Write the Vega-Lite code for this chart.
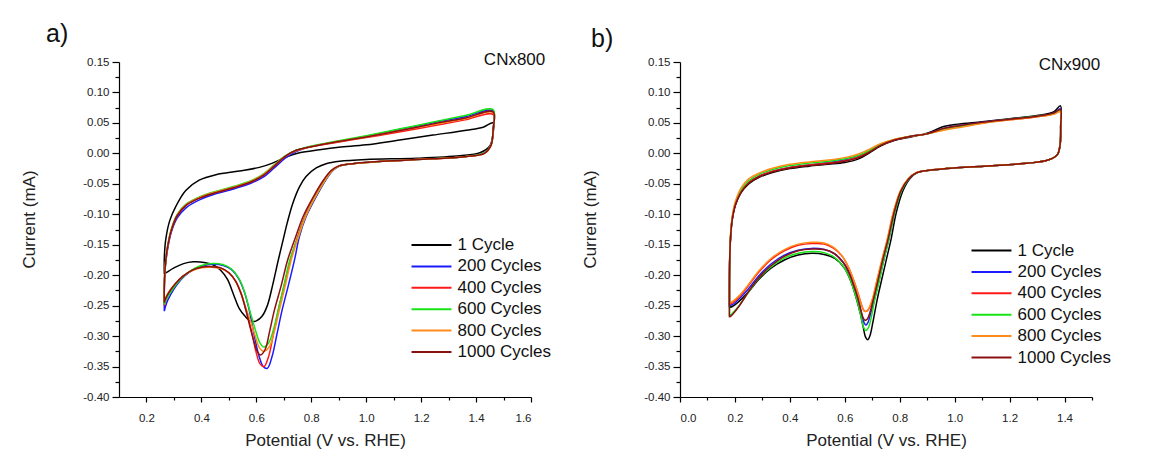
{
"$schema": "https://vega.github.io/schema/vega-lite/v6.json",
"background": "#ffffff",
"padding": {"left": 20, "top": 22, "right": 0, "bottom": 0},
"bounds": "flush",
"spacing": 149,
"config": {
  "view": {"stroke": null},
  "font": "Liberation Sans",
  "axis": {"grid": false, "domainColor": "#000000", "domainWidth": 1.2, "tickColor": "#000000", "tickWidth": 1.2, "labelColor": "#222222", "titleColor": "#222222", "labelFontSize": 11.5, "titleFontSize": 17, "titleFontWeight": "normal", "labelFont": "Liberation Sans", "titleFont": "Liberation Sans"},
  "title": {"fontSize": 25, "fontWeight": "normal", "color": "#111111", "font": "Liberation Sans", "anchor": "start", "frame": "group", "offset": 4},
  "legend": {"orient": "none", "title": null, "symbolType": "M-2.35,0H2.35", "symbolSize": 289, "symbolStrokeWidth": 2, "symbolFillColor": "transparent", "labelFontSize": 17, "labelFont": "Liberation Sans", "labelColor": "#111111", "rowPadding": 3.4, "labelOffset": 16.5, "padding": 0}
},
"resolve": {"scale": {"color": "independent", "x": "independent", "y": "independent"}, "legend": {"color": "independent"}},
"datasets": {
"a": [
{"s":"1 Cycle","o":1,"x":0.265,"y":-0.198},{"s":"1 Cycle","o":2,"x":0.265,"y":-0.172},{"s":"1 Cycle","o":3,"x":0.270,"y":-0.142},{"s":"1 Cycle","o":4,"x":0.285,"y":-0.110},{"s":"1 Cycle","o":5,"x":0.307,"y":-0.087},{"s":"1 Cycle","o":6,"x":0.343,"y":-0.061},{"s":"1 Cycle","o":7,"x":0.392,"y":-0.044},{"s":"1 Cycle","o":8,"x":0.453,"y":-0.035},{"s":"1 Cycle","o":9,"x":0.538,"y":-0.029},{"s":"1 Cycle","o":10,"x":0.611,"y":-0.023},{"s":"1 Cycle","o":11,"x":0.659,"y":-0.016},{"s":"1 Cycle","o":12,"x":0.708,"y":-0.006},{"s":"1 Cycle","o":13,"x":0.757,"y":0.001},{"s":"1 Cycle","o":14,"x":0.830,"y":0.006},{"s":"1 Cycle","o":15,"x":0.900,"y":0.010},{"s":"1 Cycle","o":16,"x":1.000,"y":0.014},{"s":"1 Cycle","o":17,"x":1.122,"y":0.022},{"s":"1 Cycle","o":18,"x":1.243,"y":0.030},{"s":"1 Cycle","o":19,"x":1.365,"y":0.038},{"s":"1 Cycle","o":20,"x":1.426,"y":0.043},{"s":"1 Cycle","o":21,"x":1.462,"y":0.050},{"s":"1 Cycle","o":22,"x":1.461,"y":0.030},{"s":"1 Cycle","o":23,"x":1.450,"y":0.012},{"s":"1 Cycle","o":24,"x":1.414,"y":0.001},{"s":"1 Cycle","o":25,"x":1.341,"y":-0.004},{"s":"1 Cycle","o":26,"x":1.183,"y":-0.008},{"s":"1 Cycle","o":27,"x":1.000,"y":-0.010},{"s":"1 Cycle","o":28,"x":0.903,"y":-0.013},{"s":"1 Cycle","o":29,"x":0.854,"y":-0.017},{"s":"1 Cycle","o":30,"x":0.818,"y":-0.024},{"s":"1 Cycle","o":31,"x":0.781,"y":-0.038},{"s":"1 Cycle","o":32,"x":0.757,"y":-0.055},{"s":"1 Cycle","o":33,"x":0.732,"y":-0.083},{"s":"1 Cycle","o":34,"x":0.712,"y":-0.115},{"s":"1 Cycle","o":35,"x":0.696,"y":-0.145},{"s":"1 Cycle","o":36,"x":0.680,"y":-0.175},{"s":"1 Cycle","o":37,"x":0.660,"y":-0.215},{"s":"1 Cycle","o":38,"x":0.640,"y":-0.250},{"s":"1 Cycle","o":39,"x":0.620,"y":-0.268},{"s":"1 Cycle","o":40,"x":0.600,"y":-0.275},{"s":"1 Cycle","o":41,"x":0.580,"y":-0.276},{"s":"1 Cycle","o":42,"x":0.560,"y":-0.268},{"s":"1 Cycle","o":43,"x":0.538,"y":-0.255},{"s":"1 Cycle","o":44,"x":0.518,"y":-0.233},{"s":"1 Cycle","o":45,"x":0.495,"y":-0.207},{"s":"1 Cycle","o":46,"x":0.470,"y":-0.192},{"s":"1 Cycle","o":47,"x":0.447,"y":-0.184},{"s":"1 Cycle","o":48,"x":0.410,"y":-0.179},{"s":"1 Cycle","o":49,"x":0.370,"y":-0.178},{"s":"1 Cycle","o":50,"x":0.335,"y":-0.181},{"s":"1 Cycle","o":51,"x":0.300,"y":-0.188},{"s":"1 Cycle","o":52,"x":0.275,"y":-0.195},{"s":"1 Cycle","o":53,"x":0.265,"y":-0.198},
{"s":"200 Cycles","o":1,"x":0.265,"y":-0.259},{"s":"200 Cycles","o":2,"x":0.265,"y":-0.225},{"s":"200 Cycles","o":3,"x":0.268,"y":-0.190},{"s":"200 Cycles","o":4,"x":0.276,"y":-0.160},{"s":"200 Cycles","o":5,"x":0.290,"y":-0.130},{"s":"200 Cycles","o":6,"x":0.312,"y":-0.106},{"s":"200 Cycles","o":7,"x":0.345,"y":-0.089},{"s":"200 Cycles","o":8,"x":0.395,"y":-0.076},{"s":"200 Cycles","o":9,"x":0.455,"y":-0.066},{"s":"200 Cycles","o":10,"x":0.520,"y":-0.058},{"s":"200 Cycles","o":11,"x":0.580,"y":-0.049},{"s":"200 Cycles","o":12,"x":0.625,"y":-0.039},{"s":"200 Cycles","o":13,"x":0.665,"y":-0.024},{"s":"200 Cycles","o":14,"x":0.705,"y":-0.008},{"s":"200 Cycles","o":15,"x":0.745,"y":0.003},{"s":"200 Cycles","o":16,"x":0.790,"y":0.010},{"s":"200 Cycles","o":17,"x":0.880,"y":0.018},{"s":"200 Cycles","o":18,"x":1.000,"y":0.028},{"s":"200 Cycles","o":19,"x":1.120,"y":0.039},{"s":"200 Cycles","o":20,"x":1.240,"y":0.050},{"s":"200 Cycles","o":21,"x":1.360,"y":0.060},{"s":"200 Cycles","o":22,"x":1.462,"y":0.070},{"s":"200 Cycles","o":23,"x":1.462,"y":0.040},{"s":"200 Cycles","o":24,"x":1.455,"y":0.015},{"s":"200 Cycles","o":25,"x":1.430,"y":0.001},{"s":"200 Cycles","o":26,"x":1.365,"y":-0.005},{"s":"200 Cycles","o":27,"x":1.240,"y":-0.009},{"s":"200 Cycles","o":28,"x":1.060,"y":-0.013},{"s":"200 Cycles","o":29,"x":0.950,"y":-0.017},{"s":"200 Cycles","o":30,"x":0.903,"y":-0.021},{"s":"200 Cycles","o":31,"x":0.879,"y":-0.028},{"s":"200 Cycles","o":32,"x":0.854,"y":-0.043},{"s":"200 Cycles","o":33,"x":0.818,"y":-0.071},{"s":"200 Cycles","o":34,"x":0.781,"y":-0.104},{"s":"200 Cycles","o":35,"x":0.757,"y":-0.136},{"s":"200 Cycles","o":36,"x":0.739,"y":-0.175},{"s":"200 Cycles","o":37,"x":0.716,"y":-0.218},{"s":"200 Cycles","o":38,"x":0.694,"y":-0.257},{"s":"200 Cycles","o":39,"x":0.675,"y":-0.297},{"s":"200 Cycles","o":40,"x":0.657,"y":-0.334},{"s":"200 Cycles","o":41,"x":0.640,"y":-0.353},{"s":"200 Cycles","o":42,"x":0.625,"y":-0.350},{"s":"200 Cycles","o":43,"x":0.610,"y":-0.333},{"s":"200 Cycles","o":44,"x":0.592,"y":-0.298},{"s":"200 Cycles","o":45,"x":0.574,"y":-0.257},{"s":"200 Cycles","o":46,"x":0.556,"y":-0.227},{"s":"200 Cycles","o":47,"x":0.536,"y":-0.206},{"s":"200 Cycles","o":48,"x":0.510,"y":-0.191},{"s":"200 Cycles","o":49,"x":0.480,"y":-0.184},{"s":"200 Cycles","o":50,"x":0.445,"y":-0.182},{"s":"200 Cycles","o":51,"x":0.410,"y":-0.184},{"s":"200 Cycles","o":52,"x":0.375,"y":-0.190},{"s":"200 Cycles","o":53,"x":0.340,"y":-0.201},{"s":"200 Cycles","o":54,"x":0.310,"y":-0.216},{"s":"200 Cycles","o":55,"x":0.288,"y":-0.232},{"s":"200 Cycles","o":56,"x":0.273,"y":-0.246},{"s":"200 Cycles","o":57,"x":0.265,"y":-0.259},
{"s":"400 Cycles","o":1,"x":0.265,"y":-0.250},{"s":"400 Cycles","o":2,"x":0.265,"y":-0.220},{"s":"400 Cycles","o":3,"x":0.268,"y":-0.188},{"s":"400 Cycles","o":4,"x":0.276,"y":-0.157},{"s":"400 Cycles","o":5,"x":0.290,"y":-0.127},{"s":"400 Cycles","o":6,"x":0.312,"y":-0.102},{"s":"400 Cycles","o":7,"x":0.345,"y":-0.085},{"s":"400 Cycles","o":8,"x":0.395,"y":-0.073},{"s":"400 Cycles","o":9,"x":0.455,"y":-0.064},{"s":"400 Cycles","o":10,"x":0.520,"y":-0.056},{"s":"400 Cycles","o":11,"x":0.580,"y":-0.047},{"s":"400 Cycles","o":12,"x":0.625,"y":-0.036},{"s":"400 Cycles","o":13,"x":0.665,"y":-0.021},{"s":"400 Cycles","o":14,"x":0.705,"y":-0.005},{"s":"400 Cycles","o":15,"x":0.745,"y":0.005},{"s":"400 Cycles","o":16,"x":0.790,"y":0.010},{"s":"400 Cycles","o":17,"x":0.880,"y":0.017},{"s":"400 Cycles","o":18,"x":1.000,"y":0.026},{"s":"400 Cycles","o":19,"x":1.120,"y":0.035},{"s":"400 Cycles","o":20,"x":1.240,"y":0.045},{"s":"400 Cycles","o":21,"x":1.360,"y":0.055},{"s":"400 Cycles","o":22,"x":1.462,"y":0.064},{"s":"400 Cycles","o":23,"x":1.462,"y":0.038},{"s":"400 Cycles","o":24,"x":1.455,"y":0.014},{"s":"400 Cycles","o":25,"x":1.430,"y":0.000},{"s":"400 Cycles","o":26,"x":1.365,"y":-0.005},{"s":"400 Cycles","o":27,"x":1.240,"y":-0.009},{"s":"400 Cycles","o":28,"x":1.060,"y":-0.013},{"s":"400 Cycles","o":29,"x":0.950,"y":-0.017},{"s":"400 Cycles","o":30,"x":0.900,"y":-0.021},{"s":"400 Cycles","o":31,"x":0.876,"y":-0.028},{"s":"400 Cycles","o":32,"x":0.850,"y":-0.043},{"s":"400 Cycles","o":33,"x":0.813,"y":-0.071},{"s":"400 Cycles","o":34,"x":0.776,"y":-0.104},{"s":"400 Cycles","o":35,"x":0.751,"y":-0.136},{"s":"400 Cycles","o":36,"x":0.724,"y":-0.175},{"s":"400 Cycles","o":37,"x":0.701,"y":-0.218},{"s":"400 Cycles","o":38,"x":0.680,"y":-0.257},{"s":"400 Cycles","o":39,"x":0.662,"y":-0.297},{"s":"400 Cycles","o":40,"x":0.645,"y":-0.333},{"s":"400 Cycles","o":41,"x":0.628,"y":-0.350},{"s":"400 Cycles","o":42,"x":0.614,"y":-0.346},{"s":"400 Cycles","o":43,"x":0.600,"y":-0.328},{"s":"400 Cycles","o":44,"x":0.583,"y":-0.293},{"s":"400 Cycles","o":45,"x":0.562,"y":-0.257},{"s":"400 Cycles","o":46,"x":0.545,"y":-0.231},{"s":"400 Cycles","o":47,"x":0.525,"y":-0.210},{"s":"400 Cycles","o":48,"x":0.500,"y":-0.196},{"s":"400 Cycles","o":49,"x":0.470,"y":-0.188},{"s":"400 Cycles","o":50,"x":0.435,"y":-0.186},{"s":"400 Cycles","o":51,"x":0.400,"y":-0.187},{"s":"400 Cycles","o":52,"x":0.365,"y":-0.192},{"s":"400 Cycles","o":53,"x":0.332,"y":-0.202},{"s":"400 Cycles","o":54,"x":0.305,"y":-0.215},{"s":"400 Cycles","o":55,"x":0.285,"y":-0.228},{"s":"400 Cycles","o":56,"x":0.272,"y":-0.240},{"s":"400 Cycles","o":57,"x":0.265,"y":-0.250},
{"s":"600 Cycles","o":1,"x":0.265,"y":-0.248},{"s":"600 Cycles","o":2,"x":0.265,"y":-0.218},{"s":"600 Cycles","o":3,"x":0.268,"y":-0.186},{"s":"600 Cycles","o":4,"x":0.276,"y":-0.155},{"s":"600 Cycles","o":5,"x":0.290,"y":-0.125},{"s":"600 Cycles","o":6,"x":0.312,"y":-0.100},{"s":"600 Cycles","o":7,"x":0.345,"y":-0.083},{"s":"600 Cycles","o":8,"x":0.395,"y":-0.071},{"s":"600 Cycles","o":9,"x":0.455,"y":-0.062},{"s":"600 Cycles","o":10,"x":0.520,"y":-0.054},{"s":"600 Cycles","o":11,"x":0.580,"y":-0.045},{"s":"600 Cycles","o":12,"x":0.625,"y":-0.034},{"s":"600 Cycles","o":13,"x":0.665,"y":-0.019},{"s":"600 Cycles","o":14,"x":0.705,"y":-0.004},{"s":"600 Cycles","o":15,"x":0.745,"y":0.005},{"s":"600 Cycles","o":16,"x":0.790,"y":0.011},{"s":"600 Cycles","o":17,"x":0.880,"y":0.019},{"s":"600 Cycles","o":18,"x":1.000,"y":0.029},{"s":"600 Cycles","o":19,"x":1.120,"y":0.040},{"s":"600 Cycles","o":20,"x":1.240,"y":0.051},{"s":"600 Cycles","o":21,"x":1.360,"y":0.062},{"s":"600 Cycles","o":22,"x":1.462,"y":0.072},{"s":"600 Cycles","o":23,"x":1.462,"y":0.040},{"s":"600 Cycles","o":24,"x":1.455,"y":0.015},{"s":"600 Cycles","o":25,"x":1.430,"y":0.001},{"s":"600 Cycles","o":26,"x":1.365,"y":-0.005},{"s":"600 Cycles","o":27,"x":1.240,"y":-0.009},{"s":"600 Cycles","o":28,"x":1.060,"y":-0.013},{"s":"600 Cycles","o":29,"x":0.950,"y":-0.017},{"s":"600 Cycles","o":30,"x":0.901,"y":-0.021},{"s":"600 Cycles","o":31,"x":0.877,"y":-0.028},{"s":"600 Cycles","o":32,"x":0.852,"y":-0.043},{"s":"600 Cycles","o":33,"x":0.815,"y":-0.071},{"s":"600 Cycles","o":34,"x":0.778,"y":-0.104},{"s":"600 Cycles","o":35,"x":0.753,"y":-0.136},{"s":"600 Cycles","o":36,"x":0.722,"y":-0.175},{"s":"600 Cycles","o":37,"x":0.700,"y":-0.218},{"s":"600 Cycles","o":38,"x":0.680,"y":-0.257},{"s":"600 Cycles","o":39,"x":0.662,"y":-0.290},{"s":"600 Cycles","o":40,"x":0.645,"y":-0.311},{"s":"600 Cycles","o":41,"x":0.628,"y":-0.318},{"s":"600 Cycles","o":42,"x":0.613,"y":-0.311},{"s":"600 Cycles","o":43,"x":0.598,"y":-0.292},{"s":"600 Cycles","o":44,"x":0.585,"y":-0.272},{"s":"600 Cycles","o":45,"x":0.574,"y":-0.255},{"s":"600 Cycles","o":46,"x":0.556,"y":-0.226},{"s":"600 Cycles","o":47,"x":0.536,"y":-0.205},{"s":"600 Cycles","o":48,"x":0.510,"y":-0.190},{"s":"600 Cycles","o":49,"x":0.480,"y":-0.183},{"s":"600 Cycles","o":50,"x":0.445,"y":-0.181},{"s":"600 Cycles","o":51,"x":0.410,"y":-0.183},{"s":"600 Cycles","o":52,"x":0.375,"y":-0.189},{"s":"600 Cycles","o":53,"x":0.340,"y":-0.200},{"s":"600 Cycles","o":54,"x":0.310,"y":-0.214},{"s":"600 Cycles","o":55,"x":0.288,"y":-0.228},{"s":"600 Cycles","o":56,"x":0.273,"y":-0.239},{"s":"600 Cycles","o":57,"x":0.265,"y":-0.248},
{"s":"800 Cycles","o":1,"x":0.265,"y":-0.243},{"s":"800 Cycles","o":2,"x":0.265,"y":-0.215},{"s":"800 Cycles","o":3,"x":0.268,"y":-0.186},{"s":"800 Cycles","o":4,"x":0.276,"y":-0.155},{"s":"800 Cycles","o":5,"x":0.290,"y":-0.126},{"s":"800 Cycles","o":6,"x":0.312,"y":-0.101},{"s":"800 Cycles","o":7,"x":0.345,"y":-0.084},{"s":"800 Cycles","o":8,"x":0.395,"y":-0.072},{"s":"800 Cycles","o":9,"x":0.455,"y":-0.063},{"s":"800 Cycles","o":10,"x":0.520,"y":-0.055},{"s":"800 Cycles","o":11,"x":0.580,"y":-0.046},{"s":"800 Cycles","o":12,"x":0.625,"y":-0.035},{"s":"800 Cycles","o":13,"x":0.665,"y":-0.020},{"s":"800 Cycles","o":14,"x":0.705,"y":-0.005},{"s":"800 Cycles","o":15,"x":0.745,"y":0.004},{"s":"800 Cycles","o":16,"x":0.790,"y":0.010},{"s":"800 Cycles","o":17,"x":0.880,"y":0.018},{"s":"800 Cycles","o":18,"x":1.000,"y":0.027},{"s":"800 Cycles","o":19,"x":1.120,"y":0.037},{"s":"800 Cycles","o":20,"x":1.240,"y":0.047},{"s":"800 Cycles","o":21,"x":1.360,"y":0.057},{"s":"800 Cycles","o":22,"x":1.462,"y":0.067},{"s":"800 Cycles","o":23,"x":1.462,"y":0.039},{"s":"800 Cycles","o":24,"x":1.455,"y":0.014},{"s":"800 Cycles","o":25,"x":1.430,"y":0.000},{"s":"800 Cycles","o":26,"x":1.365,"y":-0.005},{"s":"800 Cycles","o":27,"x":1.240,"y":-0.009},{"s":"800 Cycles","o":28,"x":1.060,"y":-0.013},{"s":"800 Cycles","o":29,"x":0.950,"y":-0.017},{"s":"800 Cycles","o":30,"x":0.901,"y":-0.021},{"s":"800 Cycles","o":31,"x":0.877,"y":-0.028},{"s":"800 Cycles","o":32,"x":0.852,"y":-0.043},{"s":"800 Cycles","o":33,"x":0.815,"y":-0.071},{"s":"800 Cycles","o":34,"x":0.779,"y":-0.104},{"s":"800 Cycles","o":35,"x":0.754,"y":-0.136},{"s":"800 Cycles","o":36,"x":0.727,"y":-0.175},{"s":"800 Cycles","o":37,"x":0.705,"y":-0.218},{"s":"800 Cycles","o":38,"x":0.684,"y":-0.257},{"s":"800 Cycles","o":39,"x":0.665,"y":-0.293},{"s":"800 Cycles","o":40,"x":0.648,"y":-0.317},{"s":"800 Cycles","o":41,"x":0.625,"y":-0.325},{"s":"800 Cycles","o":42,"x":0.610,"y":-0.318},{"s":"800 Cycles","o":43,"x":0.596,"y":-0.300},{"s":"800 Cycles","o":44,"x":0.580,"y":-0.277},{"s":"800 Cycles","o":45,"x":0.562,"y":-0.254},{"s":"800 Cycles","o":46,"x":0.545,"y":-0.230},{"s":"800 Cycles","o":47,"x":0.525,"y":-0.210},{"s":"800 Cycles","o":48,"x":0.500,"y":-0.196},{"s":"800 Cycles","o":49,"x":0.470,"y":-0.189},{"s":"800 Cycles","o":50,"x":0.435,"y":-0.187},{"s":"800 Cycles","o":51,"x":0.400,"y":-0.188},{"s":"800 Cycles","o":52,"x":0.365,"y":-0.193},{"s":"800 Cycles","o":53,"x":0.332,"y":-0.202},{"s":"800 Cycles","o":54,"x":0.305,"y":-0.214},{"s":"800 Cycles","o":55,"x":0.285,"y":-0.225},{"s":"800 Cycles","o":56,"x":0.272,"y":-0.235},{"s":"800 Cycles","o":57,"x":0.265,"y":-0.243},
{"s":"1000 Cycles","o":1,"x":0.265,"y":-0.245},{"s":"1000 Cycles","o":2,"x":0.265,"y":-0.217},{"s":"1000 Cycles","o":3,"x":0.268,"y":-0.187},{"s":"1000 Cycles","o":4,"x":0.276,"y":-0.156},{"s":"1000 Cycles","o":5,"x":0.290,"y":-0.127},{"s":"1000 Cycles","o":6,"x":0.312,"y":-0.102},{"s":"1000 Cycles","o":7,"x":0.345,"y":-0.085},{"s":"1000 Cycles","o":8,"x":0.395,"y":-0.073},{"s":"1000 Cycles","o":9,"x":0.455,"y":-0.064},{"s":"1000 Cycles","o":10,"x":0.520,"y":-0.056},{"s":"1000 Cycles","o":11,"x":0.580,"y":-0.047},{"s":"1000 Cycles","o":12,"x":0.625,"y":-0.036},{"s":"1000 Cycles","o":13,"x":0.665,"y":-0.021},{"s":"1000 Cycles","o":14,"x":0.705,"y":-0.005},{"s":"1000 Cycles","o":15,"x":0.745,"y":0.005},{"s":"1000 Cycles","o":16,"x":0.790,"y":0.010},{"s":"1000 Cycles","o":17,"x":0.880,"y":0.018},{"s":"1000 Cycles","o":18,"x":1.000,"y":0.027},{"s":"1000 Cycles","o":19,"x":1.120,"y":0.037},{"s":"1000 Cycles","o":20,"x":1.240,"y":0.048},{"s":"1000 Cycles","o":21,"x":1.360,"y":0.058},{"s":"1000 Cycles","o":22,"x":1.462,"y":0.068},{"s":"1000 Cycles","o":23,"x":1.462,"y":0.039},{"s":"1000 Cycles","o":24,"x":1.455,"y":0.014},{"s":"1000 Cycles","o":25,"x":1.430,"y":0.000},{"s":"1000 Cycles","o":26,"x":1.365,"y":-0.005},{"s":"1000 Cycles","o":27,"x":1.240,"y":-0.009},{"s":"1000 Cycles","o":28,"x":1.060,"y":-0.013},{"s":"1000 Cycles","o":29,"x":0.950,"y":-0.017},{"s":"1000 Cycles","o":30,"x":0.898,"y":-0.021},{"s":"1000 Cycles","o":31,"x":0.873,"y":-0.028},{"s":"1000 Cycles","o":32,"x":0.846,"y":-0.043},{"s":"1000 Cycles","o":33,"x":0.808,"y":-0.071},{"s":"1000 Cycles","o":34,"x":0.770,"y":-0.104},{"s":"1000 Cycles","o":35,"x":0.744,"y":-0.136},{"s":"1000 Cycles","o":36,"x":0.714,"y":-0.175},{"s":"1000 Cycles","o":37,"x":0.690,"y":-0.218},{"s":"1000 Cycles","o":38,"x":0.666,"y":-0.257},{"s":"1000 Cycles","o":39,"x":0.648,"y":-0.293},{"s":"1000 Cycles","o":40,"x":0.632,"y":-0.322},{"s":"1000 Cycles","o":41,"x":0.615,"y":-0.331},{"s":"1000 Cycles","o":42,"x":0.603,"y":-0.325},{"s":"1000 Cycles","o":43,"x":0.590,"y":-0.307},{"s":"1000 Cycles","o":44,"x":0.576,"y":-0.283},{"s":"1000 Cycles","o":45,"x":0.562,"y":-0.257},{"s":"1000 Cycles","o":46,"x":0.545,"y":-0.231},{"s":"1000 Cycles","o":47,"x":0.525,"y":-0.210},{"s":"1000 Cycles","o":48,"x":0.500,"y":-0.196},{"s":"1000 Cycles","o":49,"x":0.470,"y":-0.188},{"s":"1000 Cycles","o":50,"x":0.435,"y":-0.186},{"s":"1000 Cycles","o":51,"x":0.400,"y":-0.187},{"s":"1000 Cycles","o":52,"x":0.365,"y":-0.192},{"s":"1000 Cycles","o":53,"x":0.332,"y":-0.202},{"s":"1000 Cycles","o":54,"x":0.305,"y":-0.214},{"s":"1000 Cycles","o":55,"x":0.285,"y":-0.226},{"s":"1000 Cycles","o":56,"x":0.272,"y":-0.236},{"s":"1000 Cycles","o":57,"x":0.265,"y":-0.245}
],
"b": [
{"s":"1 Cycle","o":1,"x":0.180,"y":-0.253},{"s":"1 Cycle","o":2,"x":0.180,"y":-0.215},{"s":"1 Cycle","o":3,"x":0.181,"y":-0.175},{"s":"1 Cycle","o":4,"x":0.184,"y":-0.140},{"s":"1 Cycle","o":5,"x":0.190,"y":-0.110},{"s":"1 Cycle","o":6,"x":0.202,"y":-0.085},{"s":"1 Cycle","o":7,"x":0.222,"y":-0.065},{"s":"1 Cycle","o":8,"x":0.250,"y":-0.050},{"s":"1 Cycle","o":9,"x":0.290,"y":-0.039},{"s":"1 Cycle","o":10,"x":0.340,"y":-0.031},{"s":"1 Cycle","o":11,"x":0.400,"y":-0.025},{"s":"1 Cycle","o":12,"x":0.470,"y":-0.021},{"s":"1 Cycle","o":13,"x":0.540,"y":-0.018},{"s":"1 Cycle","o":14,"x":0.600,"y":-0.015},{"s":"1 Cycle","o":15,"x":0.650,"y":-0.009},{"s":"1 Cycle","o":16,"x":0.690,"y":0.001},{"s":"1 Cycle","o":17,"x":0.730,"y":0.012},{"s":"1 Cycle","o":18,"x":0.780,"y":0.021},{"s":"1 Cycle","o":19,"x":0.840,"y":0.027},{"s":"1 Cycle","o":20,"x":0.900,"y":0.033},{"s":"1 Cycle","o":21,"x":0.960,"y":0.044},{"s":"1 Cycle","o":22,"x":1.010,"y":0.048},{"s":"1 Cycle","o":23,"x":1.100,"y":0.052},{"s":"1 Cycle","o":24,"x":1.200,"y":0.057},{"s":"1 Cycle","o":25,"x":1.300,"y":0.062},{"s":"1 Cycle","o":26,"x":1.360,"y":0.068},{"s":"1 Cycle","o":27,"x":1.385,"y":0.078},{"s":"1 Cycle","o":28,"x":1.386,"y":0.045},{"s":"1 Cycle","o":29,"x":1.384,"y":0.015},{"s":"1 Cycle","o":30,"x":1.374,"y":-0.002},{"s":"1 Cycle","o":31,"x":1.340,"y":-0.011},{"s":"1 Cycle","o":32,"x":1.270,"y":-0.016},{"s":"1 Cycle","o":33,"x":1.150,"y":-0.020},{"s":"1 Cycle","o":34,"x":0.970,"y":-0.025},{"s":"1 Cycle","o":35,"x":0.900,"y":-0.028},{"s":"1 Cycle","o":36,"x":0.862,"y":-0.032},{"s":"1 Cycle","o":37,"x":0.836,"y":-0.042},{"s":"1 Cycle","o":38,"x":0.811,"y":-0.062},{"s":"1 Cycle","o":39,"x":0.787,"y":-0.098},{"s":"1 Cycle","o":40,"x":0.769,"y":-0.140},{"s":"1 Cycle","o":41,"x":0.751,"y":-0.175},{"s":"1 Cycle","o":42,"x":0.733,"y":-0.210},{"s":"1 Cycle","o":43,"x":0.718,"y":-0.240},{"s":"1 Cycle","o":44,"x":0.702,"y":-0.278},{"s":"1 Cycle","o":45,"x":0.692,"y":-0.299},{"s":"1 Cycle","o":46,"x":0.684,"y":-0.306},{"s":"1 Cycle","o":47,"x":0.676,"y":-0.302},{"s":"1 Cycle","o":48,"x":0.667,"y":-0.285},{"s":"1 Cycle","o":49,"x":0.656,"y":-0.262},{"s":"1 Cycle","o":50,"x":0.643,"y":-0.240},{"s":"1 Cycle","o":51,"x":0.622,"y":-0.210},{"s":"1 Cycle","o":52,"x":0.598,"y":-0.188},{"s":"1 Cycle","o":53,"x":0.565,"y":-0.173},{"s":"1 Cycle","o":54,"x":0.525,"y":-0.166},{"s":"1 Cycle","o":55,"x":0.480,"y":-0.164},{"s":"1 Cycle","o":56,"x":0.430,"y":-0.167},{"s":"1 Cycle","o":57,"x":0.380,"y":-0.175},{"s":"1 Cycle","o":58,"x":0.330,"y":-0.189},{"s":"1 Cycle","o":59,"x":0.285,"y":-0.208},{"s":"1 Cycle","o":60,"x":0.248,"y":-0.228},{"s":"1 Cycle","o":61,"x":0.215,"y":-0.243},{"s":"1 Cycle","o":62,"x":0.192,"y":-0.251},{"s":"1 Cycle","o":63,"x":0.180,"y":-0.253},
{"s":"200 Cycles","o":1,"x":0.180,"y":-0.250},{"s":"200 Cycles","o":2,"x":0.180,"y":-0.213},{"s":"200 Cycles","o":3,"x":0.181,"y":-0.173},{"s":"200 Cycles","o":4,"x":0.184,"y":-0.138},{"s":"200 Cycles","o":5,"x":0.190,"y":-0.108},{"s":"200 Cycles","o":6,"x":0.202,"y":-0.083},{"s":"200 Cycles","o":7,"x":0.222,"y":-0.063},{"s":"200 Cycles","o":8,"x":0.250,"y":-0.048},{"s":"200 Cycles","o":9,"x":0.290,"y":-0.037},{"s":"200 Cycles","o":10,"x":0.340,"y":-0.029},{"s":"200 Cycles","o":11,"x":0.400,"y":-0.023},{"s":"200 Cycles","o":12,"x":0.470,"y":-0.019},{"s":"200 Cycles","o":13,"x":0.540,"y":-0.015},{"s":"200 Cycles","o":14,"x":0.600,"y":-0.011},{"s":"200 Cycles","o":15,"x":0.650,"y":-0.005},{"s":"200 Cycles","o":16,"x":0.690,"y":0.004},{"s":"200 Cycles","o":17,"x":0.730,"y":0.014},{"s":"200 Cycles","o":18,"x":0.780,"y":0.022},{"s":"200 Cycles","o":19,"x":0.840,"y":0.028},{"s":"200 Cycles","o":20,"x":0.900,"y":0.032},{"s":"200 Cycles","o":21,"x":0.960,"y":0.041},{"s":"200 Cycles","o":22,"x":1.010,"y":0.045},{"s":"200 Cycles","o":23,"x":1.100,"y":0.051},{"s":"200 Cycles","o":24,"x":1.200,"y":0.056},{"s":"200 Cycles","o":25,"x":1.300,"y":0.061},{"s":"200 Cycles","o":26,"x":1.360,"y":0.066},{"s":"200 Cycles","o":27,"x":1.385,"y":0.073},{"s":"200 Cycles","o":28,"x":1.386,"y":0.045},{"s":"200 Cycles","o":29,"x":1.384,"y":0.015},{"s":"200 Cycles","o":30,"x":1.374,"y":-0.002},{"s":"200 Cycles","o":31,"x":1.340,"y":-0.011},{"s":"200 Cycles","o":32,"x":1.270,"y":-0.016},{"s":"200 Cycles","o":33,"x":1.150,"y":-0.020},{"s":"200 Cycles","o":34,"x":0.970,"y":-0.025},{"s":"200 Cycles","o":35,"x":0.900,"y":-0.028},{"s":"200 Cycles","o":36,"x":0.860,"y":-0.032},{"s":"200 Cycles","o":37,"x":0.833,"y":-0.042},{"s":"200 Cycles","o":38,"x":0.806,"y":-0.062},{"s":"200 Cycles","o":39,"x":0.781,"y":-0.098},{"s":"200 Cycles","o":40,"x":0.761,"y":-0.140},{"s":"200 Cycles","o":41,"x":0.742,"y":-0.175},{"s":"200 Cycles","o":42,"x":0.724,"y":-0.210},{"s":"200 Cycles","o":43,"x":0.708,"y":-0.240},{"s":"200 Cycles","o":44,"x":0.693,"y":-0.265},{"s":"200 Cycles","o":45,"x":0.684,"y":-0.278},{"s":"200 Cycles","o":46,"x":0.677,"y":-0.282},{"s":"200 Cycles","o":47,"x":0.670,"y":-0.278},{"s":"200 Cycles","o":48,"x":0.662,"y":-0.265},{"s":"200 Cycles","o":49,"x":0.652,"y":-0.245},{"s":"200 Cycles","o":50,"x":0.640,"y":-0.227},{"s":"200 Cycles","o":51,"x":0.620,"y":-0.200},{"s":"200 Cycles","o":52,"x":0.596,"y":-0.180},{"s":"200 Cycles","o":53,"x":0.563,"y":-0.165},{"s":"200 Cycles","o":54,"x":0.525,"y":-0.158},{"s":"200 Cycles","o":55,"x":0.480,"y":-0.156},{"s":"200 Cycles","o":56,"x":0.430,"y":-0.159},{"s":"200 Cycles","o":57,"x":0.380,"y":-0.167},{"s":"200 Cycles","o":58,"x":0.330,"y":-0.182},{"s":"200 Cycles","o":59,"x":0.285,"y":-0.202},{"s":"200 Cycles","o":60,"x":0.248,"y":-0.223},{"s":"200 Cycles","o":61,"x":0.215,"y":-0.239},{"s":"200 Cycles","o":62,"x":0.192,"y":-0.248},{"s":"200 Cycles","o":63,"x":0.180,"y":-0.250},
{"s":"400 Cycles","o":1,"x":0.180,"y":-0.248},{"s":"400 Cycles","o":2,"x":0.180,"y":-0.212},{"s":"400 Cycles","o":3,"x":0.181,"y":-0.173},{"s":"400 Cycles","o":4,"x":0.184,"y":-0.138},{"s":"400 Cycles","o":5,"x":0.190,"y":-0.108},{"s":"400 Cycles","o":6,"x":0.202,"y":-0.083},{"s":"400 Cycles","o":7,"x":0.222,"y":-0.063},{"s":"400 Cycles","o":8,"x":0.250,"y":-0.048},{"s":"400 Cycles","o":9,"x":0.290,"y":-0.037},{"s":"400 Cycles","o":10,"x":0.340,"y":-0.029},{"s":"400 Cycles","o":11,"x":0.400,"y":-0.023},{"s":"400 Cycles","o":12,"x":0.470,"y":-0.019},{"s":"400 Cycles","o":13,"x":0.540,"y":-0.016},{"s":"400 Cycles","o":14,"x":0.600,"y":-0.012},{"s":"400 Cycles","o":15,"x":0.650,"y":-0.006},{"s":"400 Cycles","o":16,"x":0.690,"y":0.003},{"s":"400 Cycles","o":17,"x":0.730,"y":0.013},{"s":"400 Cycles","o":18,"x":0.780,"y":0.022},{"s":"400 Cycles","o":19,"x":0.840,"y":0.028},{"s":"400 Cycles","o":20,"x":0.900,"y":0.032},{"s":"400 Cycles","o":21,"x":0.960,"y":0.040},{"s":"400 Cycles","o":22,"x":1.010,"y":0.044},{"s":"400 Cycles","o":23,"x":1.100,"y":0.050},{"s":"400 Cycles","o":24,"x":1.200,"y":0.055},{"s":"400 Cycles","o":25,"x":1.300,"y":0.060},{"s":"400 Cycles","o":26,"x":1.360,"y":0.065},{"s":"400 Cycles","o":27,"x":1.385,"y":0.071},{"s":"400 Cycles","o":28,"x":1.386,"y":0.045},{"s":"400 Cycles","o":29,"x":1.384,"y":0.015},{"s":"400 Cycles","o":30,"x":1.374,"y":-0.002},{"s":"400 Cycles","o":31,"x":1.340,"y":-0.011},{"s":"400 Cycles","o":32,"x":1.270,"y":-0.016},{"s":"400 Cycles","o":33,"x":1.150,"y":-0.020},{"s":"400 Cycles","o":34,"x":0.970,"y":-0.025},{"s":"400 Cycles","o":35,"x":0.900,"y":-0.028},{"s":"400 Cycles","o":36,"x":0.859,"y":-0.032},{"s":"400 Cycles","o":37,"x":0.831,"y":-0.042},{"s":"400 Cycles","o":38,"x":0.803,"y":-0.062},{"s":"400 Cycles","o":39,"x":0.777,"y":-0.098},{"s":"400 Cycles","o":40,"x":0.756,"y":-0.140},{"s":"400 Cycles","o":41,"x":0.736,"y":-0.175},{"s":"400 Cycles","o":42,"x":0.717,"y":-0.210},{"s":"400 Cycles","o":43,"x":0.701,"y":-0.240},{"s":"400 Cycles","o":44,"x":0.689,"y":-0.254},{"s":"400 Cycles","o":45,"x":0.680,"y":-0.259},{"s":"400 Cycles","o":46,"x":0.672,"y":-0.259},{"s":"400 Cycles","o":47,"x":0.665,"y":-0.254},{"s":"400 Cycles","o":48,"x":0.657,"y":-0.243},{"s":"400 Cycles","o":49,"x":0.647,"y":-0.228},{"s":"400 Cycles","o":50,"x":0.635,"y":-0.212},{"s":"400 Cycles","o":51,"x":0.615,"y":-0.189},{"s":"400 Cycles","o":52,"x":0.592,"y":-0.170},{"s":"400 Cycles","o":53,"x":0.560,"y":-0.156},{"s":"400 Cycles","o":54,"x":0.525,"y":-0.149},{"s":"400 Cycles","o":55,"x":0.480,"y":-0.148},{"s":"400 Cycles","o":56,"x":0.430,"y":-0.151},{"s":"400 Cycles","o":57,"x":0.380,"y":-0.160},{"s":"400 Cycles","o":58,"x":0.330,"y":-0.175},{"s":"400 Cycles","o":59,"x":0.285,"y":-0.196},{"s":"400 Cycles","o":60,"x":0.248,"y":-0.218},{"s":"400 Cycles","o":61,"x":0.215,"y":-0.236},{"s":"400 Cycles","o":62,"x":0.192,"y":-0.245},{"s":"400 Cycles","o":63,"x":0.180,"y":-0.248},
{"s":"600 Cycles","o":1,"x":0.180,"y":-0.267},{"s":"600 Cycles","o":2,"x":0.180,"y":-0.215},{"s":"600 Cycles","o":3,"x":0.181,"y":-0.172},{"s":"600 Cycles","o":4,"x":0.184,"y":-0.136},{"s":"600 Cycles","o":5,"x":0.190,"y":-0.106},{"s":"600 Cycles","o":6,"x":0.202,"y":-0.080},{"s":"600 Cycles","o":7,"x":0.222,"y":-0.060},{"s":"600 Cycles","o":8,"x":0.250,"y":-0.045},{"s":"600 Cycles","o":9,"x":0.290,"y":-0.034},{"s":"600 Cycles","o":10,"x":0.340,"y":-0.026},{"s":"600 Cycles","o":11,"x":0.400,"y":-0.020},{"s":"600 Cycles","o":12,"x":0.470,"y":-0.016},{"s":"600 Cycles","o":13,"x":0.540,"y":-0.013},{"s":"600 Cycles","o":14,"x":0.600,"y":-0.009},{"s":"600 Cycles","o":15,"x":0.650,"y":-0.003},{"s":"600 Cycles","o":16,"x":0.690,"y":0.005},{"s":"600 Cycles","o":17,"x":0.730,"y":0.015},{"s":"600 Cycles","o":18,"x":0.780,"y":0.023},{"s":"600 Cycles","o":19,"x":0.840,"y":0.028},{"s":"600 Cycles","o":20,"x":0.900,"y":0.032},{"s":"600 Cycles","o":21,"x":0.960,"y":0.039},{"s":"600 Cycles","o":22,"x":1.010,"y":0.043},{"s":"600 Cycles","o":23,"x":1.100,"y":0.050},{"s":"600 Cycles","o":24,"x":1.200,"y":0.056},{"s":"600 Cycles","o":25,"x":1.300,"y":0.061},{"s":"600 Cycles","o":26,"x":1.360,"y":0.065},{"s":"600 Cycles","o":27,"x":1.385,"y":0.071},{"s":"600 Cycles","o":28,"x":1.386,"y":0.045},{"s":"600 Cycles","o":29,"x":1.384,"y":0.015},{"s":"600 Cycles","o":30,"x":1.374,"y":-0.002},{"s":"600 Cycles","o":31,"x":1.340,"y":-0.011},{"s":"600 Cycles","o":32,"x":1.270,"y":-0.016},{"s":"600 Cycles","o":33,"x":1.150,"y":-0.020},{"s":"600 Cycles","o":34,"x":0.970,"y":-0.025},{"s":"600 Cycles","o":35,"x":0.900,"y":-0.028},{"s":"600 Cycles","o":36,"x":0.860,"y":-0.032},{"s":"600 Cycles","o":37,"x":0.833,"y":-0.042},{"s":"600 Cycles","o":38,"x":0.806,"y":-0.062},{"s":"600 Cycles","o":39,"x":0.781,"y":-0.098},{"s":"600 Cycles","o":40,"x":0.761,"y":-0.140},{"s":"600 Cycles","o":41,"x":0.742,"y":-0.175},{"s":"600 Cycles","o":42,"x":0.725,"y":-0.210},{"s":"600 Cycles","o":43,"x":0.709,"y":-0.240},{"s":"600 Cycles","o":44,"x":0.696,"y":-0.270},{"s":"600 Cycles","o":45,"x":0.686,"y":-0.286},{"s":"600 Cycles","o":46,"x":0.676,"y":-0.291},{"s":"600 Cycles","o":47,"x":0.668,"y":-0.285},{"s":"600 Cycles","o":48,"x":0.659,"y":-0.268},{"s":"600 Cycles","o":49,"x":0.648,"y":-0.247},{"s":"600 Cycles","o":50,"x":0.636,"y":-0.229},{"s":"600 Cycles","o":51,"x":0.616,"y":-0.203},{"s":"600 Cycles","o":52,"x":0.592,"y":-0.184},{"s":"600 Cycles","o":53,"x":0.560,"y":-0.170},{"s":"600 Cycles","o":54,"x":0.525,"y":-0.163},{"s":"600 Cycles","o":55,"x":0.480,"y":-0.161},{"s":"600 Cycles","o":56,"x":0.430,"y":-0.164},{"s":"600 Cycles","o":57,"x":0.380,"y":-0.172},{"s":"600 Cycles","o":58,"x":0.330,"y":-0.187},{"s":"600 Cycles","o":59,"x":0.285,"y":-0.206},{"s":"600 Cycles","o":60,"x":0.248,"y":-0.229},{"s":"600 Cycles","o":61,"x":0.215,"y":-0.250},{"s":"600 Cycles","o":62,"x":0.192,"y":-0.262},{"s":"600 Cycles","o":63,"x":0.180,"y":-0.267},
{"s":"800 Cycles","o":1,"x":0.180,"y":-0.246},{"s":"800 Cycles","o":2,"x":0.180,"y":-0.210},{"s":"800 Cycles","o":3,"x":0.181,"y":-0.170},{"s":"800 Cycles","o":4,"x":0.184,"y":-0.134},{"s":"800 Cycles","o":5,"x":0.190,"y":-0.104},{"s":"800 Cycles","o":6,"x":0.202,"y":-0.078},{"s":"800 Cycles","o":7,"x":0.222,"y":-0.057},{"s":"800 Cycles","o":8,"x":0.250,"y":-0.042},{"s":"800 Cycles","o":9,"x":0.290,"y":-0.032},{"s":"800 Cycles","o":10,"x":0.340,"y":-0.024},{"s":"800 Cycles","o":11,"x":0.400,"y":-0.018},{"s":"800 Cycles","o":12,"x":0.470,"y":-0.014},{"s":"800 Cycles","o":13,"x":0.540,"y":-0.011},{"s":"800 Cycles","o":14,"x":0.600,"y":-0.007},{"s":"800 Cycles","o":15,"x":0.650,"y":-0.001},{"s":"800 Cycles","o":16,"x":0.690,"y":0.007},{"s":"800 Cycles","o":17,"x":0.730,"y":0.016},{"s":"800 Cycles","o":18,"x":0.780,"y":0.023},{"s":"800 Cycles","o":19,"x":0.840,"y":0.028},{"s":"800 Cycles","o":20,"x":0.900,"y":0.032},{"s":"800 Cycles","o":21,"x":0.960,"y":0.038},{"s":"800 Cycles","o":22,"x":1.010,"y":0.042},{"s":"800 Cycles","o":23,"x":1.100,"y":0.049},{"s":"800 Cycles","o":24,"x":1.200,"y":0.055},{"s":"800 Cycles","o":25,"x":1.300,"y":0.060},{"s":"800 Cycles","o":26,"x":1.360,"y":0.064},{"s":"800 Cycles","o":27,"x":1.385,"y":0.068},{"s":"800 Cycles","o":28,"x":1.386,"y":0.045},{"s":"800 Cycles","o":29,"x":1.384,"y":0.015},{"s":"800 Cycles","o":30,"x":1.374,"y":-0.002},{"s":"800 Cycles","o":31,"x":1.340,"y":-0.011},{"s":"800 Cycles","o":32,"x":1.270,"y":-0.016},{"s":"800 Cycles","o":33,"x":1.150,"y":-0.020},{"s":"800 Cycles","o":34,"x":0.970,"y":-0.025},{"s":"800 Cycles","o":35,"x":0.900,"y":-0.028},{"s":"800 Cycles","o":36,"x":0.858,"y":-0.032},{"s":"800 Cycles","o":37,"x":0.830,"y":-0.042},{"s":"800 Cycles","o":38,"x":0.802,"y":-0.062},{"s":"800 Cycles","o":39,"x":0.776,"y":-0.098},{"s":"800 Cycles","o":40,"x":0.755,"y":-0.140},{"s":"800 Cycles","o":41,"x":0.735,"y":-0.175},{"s":"800 Cycles","o":42,"x":0.716,"y":-0.210},{"s":"800 Cycles","o":43,"x":0.700,"y":-0.240},{"s":"800 Cycles","o":44,"x":0.688,"y":-0.254},{"s":"800 Cycles","o":45,"x":0.679,"y":-0.259},{"s":"800 Cycles","o":46,"x":0.671,"y":-0.259},{"s":"800 Cycles","o":47,"x":0.664,"y":-0.253},{"s":"800 Cycles","o":48,"x":0.656,"y":-0.242},{"s":"800 Cycles","o":49,"x":0.646,"y":-0.227},{"s":"800 Cycles","o":50,"x":0.634,"y":-0.210},{"s":"800 Cycles","o":51,"x":0.614,"y":-0.187},{"s":"800 Cycles","o":52,"x":0.590,"y":-0.168},{"s":"800 Cycles","o":53,"x":0.558,"y":-0.154},{"s":"800 Cycles","o":54,"x":0.525,"y":-0.147},{"s":"800 Cycles","o":55,"x":0.480,"y":-0.146},{"s":"800 Cycles","o":56,"x":0.430,"y":-0.149},{"s":"800 Cycles","o":57,"x":0.380,"y":-0.158},{"s":"800 Cycles","o":58,"x":0.330,"y":-0.173},{"s":"800 Cycles","o":59,"x":0.285,"y":-0.194},{"s":"800 Cycles","o":60,"x":0.248,"y":-0.216},{"s":"800 Cycles","o":61,"x":0.215,"y":-0.234},{"s":"800 Cycles","o":62,"x":0.192,"y":-0.243},{"s":"800 Cycles","o":63,"x":0.180,"y":-0.246},
{"s":"1000 Cycles","o":1,"x":0.180,"y":-0.269},{"s":"1000 Cycles","o":2,"x":0.180,"y":-0.215},{"s":"1000 Cycles","o":3,"x":0.181,"y":-0.174},{"s":"1000 Cycles","o":4,"x":0.184,"y":-0.139},{"s":"1000 Cycles","o":5,"x":0.190,"y":-0.109},{"s":"1000 Cycles","o":6,"x":0.202,"y":-0.084},{"s":"1000 Cycles","o":7,"x":0.222,"y":-0.064},{"s":"1000 Cycles","o":8,"x":0.250,"y":-0.049},{"s":"1000 Cycles","o":9,"x":0.290,"y":-0.038},{"s":"1000 Cycles","o":10,"x":0.340,"y":-0.030},{"s":"1000 Cycles","o":11,"x":0.400,"y":-0.024},{"s":"1000 Cycles","o":12,"x":0.470,"y":-0.020},{"s":"1000 Cycles","o":13,"x":0.540,"y":-0.017},{"s":"1000 Cycles","o":14,"x":0.600,"y":-0.013},{"s":"1000 Cycles","o":15,"x":0.650,"y":-0.007},{"s":"1000 Cycles","o":16,"x":0.690,"y":0.002},{"s":"1000 Cycles","o":17,"x":0.730,"y":0.013},{"s":"1000 Cycles","o":18,"x":0.780,"y":0.022},{"s":"1000 Cycles","o":19,"x":0.840,"y":0.028},{"s":"1000 Cycles","o":20,"x":0.900,"y":0.032},{"s":"1000 Cycles","o":21,"x":0.960,"y":0.041},{"s":"1000 Cycles","o":22,"x":1.010,"y":0.045},{"s":"1000 Cycles","o":23,"x":1.100,"y":0.051},{"s":"1000 Cycles","o":24,"x":1.200,"y":0.056},{"s":"1000 Cycles","o":25,"x":1.300,"y":0.061},{"s":"1000 Cycles","o":26,"x":1.360,"y":0.066},{"s":"1000 Cycles","o":27,"x":1.385,"y":0.072},{"s":"1000 Cycles","o":28,"x":1.386,"y":0.045},{"s":"1000 Cycles","o":29,"x":1.384,"y":0.015},{"s":"1000 Cycles","o":30,"x":1.374,"y":-0.002},{"s":"1000 Cycles","o":31,"x":1.340,"y":-0.011},{"s":"1000 Cycles","o":32,"x":1.270,"y":-0.016},{"s":"1000 Cycles","o":33,"x":1.150,"y":-0.020},{"s":"1000 Cycles","o":34,"x":0.970,"y":-0.025},{"s":"1000 Cycles","o":35,"x":0.900,"y":-0.028},{"s":"1000 Cycles","o":36,"x":0.860,"y":-0.032},{"s":"1000 Cycles","o":37,"x":0.832,"y":-0.042},{"s":"1000 Cycles","o":38,"x":0.804,"y":-0.062},{"s":"1000 Cycles","o":39,"x":0.779,"y":-0.098},{"s":"1000 Cycles","o":40,"x":0.758,"y":-0.140},{"s":"1000 Cycles","o":41,"x":0.738,"y":-0.175},{"s":"1000 Cycles","o":42,"x":0.720,"y":-0.210},{"s":"1000 Cycles","o":43,"x":0.704,"y":-0.240},{"s":"1000 Cycles","o":44,"x":0.691,"y":-0.262},{"s":"1000 Cycles","o":45,"x":0.682,"y":-0.272},{"s":"1000 Cycles","o":46,"x":0.673,"y":-0.274},{"s":"1000 Cycles","o":47,"x":0.666,"y":-0.269},{"s":"1000 Cycles","o":48,"x":0.657,"y":-0.255},{"s":"1000 Cycles","o":49,"x":0.647,"y":-0.237},{"s":"1000 Cycles","o":50,"x":0.635,"y":-0.220},{"s":"1000 Cycles","o":51,"x":0.615,"y":-0.196},{"s":"1000 Cycles","o":52,"x":0.592,"y":-0.178},{"s":"1000 Cycles","o":53,"x":0.560,"y":-0.164},{"s":"1000 Cycles","o":54,"x":0.525,"y":-0.158},{"s":"1000 Cycles","o":55,"x":0.480,"y":-0.157},{"s":"1000 Cycles","o":56,"x":0.430,"y":-0.160},{"s":"1000 Cycles","o":57,"x":0.380,"y":-0.169},{"s":"1000 Cycles","o":58,"x":0.330,"y":-0.185},{"s":"1000 Cycles","o":59,"x":0.285,"y":-0.205},{"s":"1000 Cycles","o":60,"x":0.248,"y":-0.228},{"s":"1000 Cycles","o":61,"x":0.215,"y":-0.251},{"s":"1000 Cycles","o":62,"x":0.192,"y":-0.264},{"s":"1000 Cycles","o":63,"x":0.180,"y":-0.269}
]
},
"hconcat": [
{
  "width": 412, "height": 335,
  "title": {"text": "a)", "dx": -73},
  "layer": [
    {
      "data": {"name": "a"},
      "mark": {"type": "line", "interpolate": "catmull-rom", "strokeWidth": 1.5},
      "encoding": {
        "x": {"field": "x", "type": "quantitative", "scale": {"domain": [0.1, 1.6], "nice": false, "zero": false},
              "axis": {"orient": "bottom", "values": [0.2, 0.4, 0.6, 0.8, 1.0, 1.2, 1.4, 1.6], "format": ".1f", "title": "Potential (V vs. RHE)", "tickSize": 5, "labelPadding": 10, "titlePadding": 9}},
        "y": {"field": "y", "type": "quantitative", "scale": {"domain": [-0.4, 0.15], "nice": false, "zero": false},
              "axis": {"orient": "left", "values": [-0.4, -0.35, -0.3, -0.25, -0.2, -0.15, -0.1, -0.05, 0, 0.05, 0.1, 0.15], "labelExpr": "replace(format(datum.value, '.2f'), '\u2212', '-')", "title": "Current (mA)", "tickSize": 7, "labelPadding": 3, "titlePadding": 44, "titleY": 157}},
        "color": {"field": "s", "type": "nominal",
                  "scale": {"domain": ["1 Cycle", "200 Cycles", "400 Cycles", "600 Cycles", "800 Cycles", "1000 Cycles"], "range": ["#000000", "#1a1aff", "#ff1a1a", "#17e317", "#ff8c1a", "#8b1010"]},
                  "legend": {"legendX": 303, "legendY": 173.5}},
        "order": {"field": "o", "type": "quantitative"}
      }
    },
    {
      "data": {"values": [{}]},
      "mark": {"type": "text", "fontSize": 17, "align": "right", "baseline": "middle", "color": "#111111", "font": "Liberation Sans"},
      "encoding": {
        "x": {"datum": 1.652, "type": "quantitative", "scale": {"domain": [0.1, 1.6], "nice": false, "zero": false},
              "axis": {"orient": "bottom", "values": [0.3, 0.5, 0.7, 0.9, 1.1, 1.3, 1.5], "labels": false, "domain": false, "tickSize": 3, "title": null}},
        "y": {"datum": 0.1526, "type": "quantitative", "scale": {"domain": [-0.4, 0.15], "nice": false, "zero": false},
              "axis": {"orient": "left", "values": [-0.375, -0.325, -0.275, -0.225, -0.175, -0.125, -0.075, -0.025, 0.025, 0.075, 0.125], "labels": false, "domain": false, "tickSize": 4, "title": null}},
        "text": {"value": "CNx800"}
      }
    }
  ],
  "resolve": {"axis": {"x": "independent", "y": "independent"}}
},
{
  "width": 412, "height": 335,
  "title": {"text": "b)", "dx": -89},
  "layer": [
    {
      "data": {"name": "b"},
      "mark": {"type": "line", "interpolate": "catmull-rom", "strokeWidth": 1.5},
      "encoding": {
        "x": {"field": "x", "type": "quantitative", "scale": {"domain": [0, 1.5], "nice": false, "zero": false},
              "axis": {"orient": "bottom", "values": [0, 0.2, 0.4, 0.6, 0.8, 1.0, 1.2, 1.4], "format": ".1f", "title": "Potential (V vs. RHE)", "tickSize": 5, "labelPadding": 10, "titlePadding": 9}},
        "y": {"field": "y", "type": "quantitative", "scale": {"domain": [-0.4, 0.15], "nice": false, "zero": false},
              "axis": {"orient": "left", "values": [-0.4, -0.35, -0.3, -0.25, -0.2, -0.15, -0.1, -0.05, 0, 0.05, 0.1, 0.15], "labelExpr": "replace(format(datum.value, '.2f'), '\u2212', '-')", "title": "Current (mA)", "tickSize": 7, "labelPadding": 3, "titlePadding": 44, "titleY": 157}},
        "color": {"field": "s", "type": "nominal",
                  "scale": {"domain": ["1 Cycle", "200 Cycles", "400 Cycles", "600 Cycles", "800 Cycles", "1000 Cycles"], "range": ["#000000", "#1a1aff", "#ff1a1a", "#17e317", "#ff8c1a", "#8b1010"]},
                  "legend": {"legendX": 302, "legendY": 179}},
        "order": {"field": "o", "type": "quantitative"}
      }
    },
    {
      "data": {"values": [{}]},
      "mark": {"type": "text", "fontSize": 17, "align": "right", "baseline": "middle", "color": "#111111", "font": "Liberation Sans"},
      "encoding": {
        "x": {"datum": 1.53, "type": "quantitative", "scale": {"domain": [0, 1.5], "nice": false, "zero": false},
              "axis": {"orient": "bottom", "values": [0.1, 0.3, 0.5, 0.7, 0.9, 1.1, 1.3, 1.5], "labels": false, "domain": false, "tickSize": 3, "title": null}},
        "y": {"datum": 0.1456, "type": "quantitative", "scale": {"domain": [-0.4, 0.15], "nice": false, "zero": false},
              "axis": {"orient": "left", "values": [-0.375, -0.325, -0.275, -0.225, -0.175, -0.125, -0.075, -0.025, 0.025, 0.075, 0.125], "labels": false, "domain": false, "tickSize": 4, "title": null}},
        "text": {"value": "CNx900"}
      }
    }
  ],
  "resolve": {"axis": {"x": "independent", "y": "independent"}}
}
]
}
